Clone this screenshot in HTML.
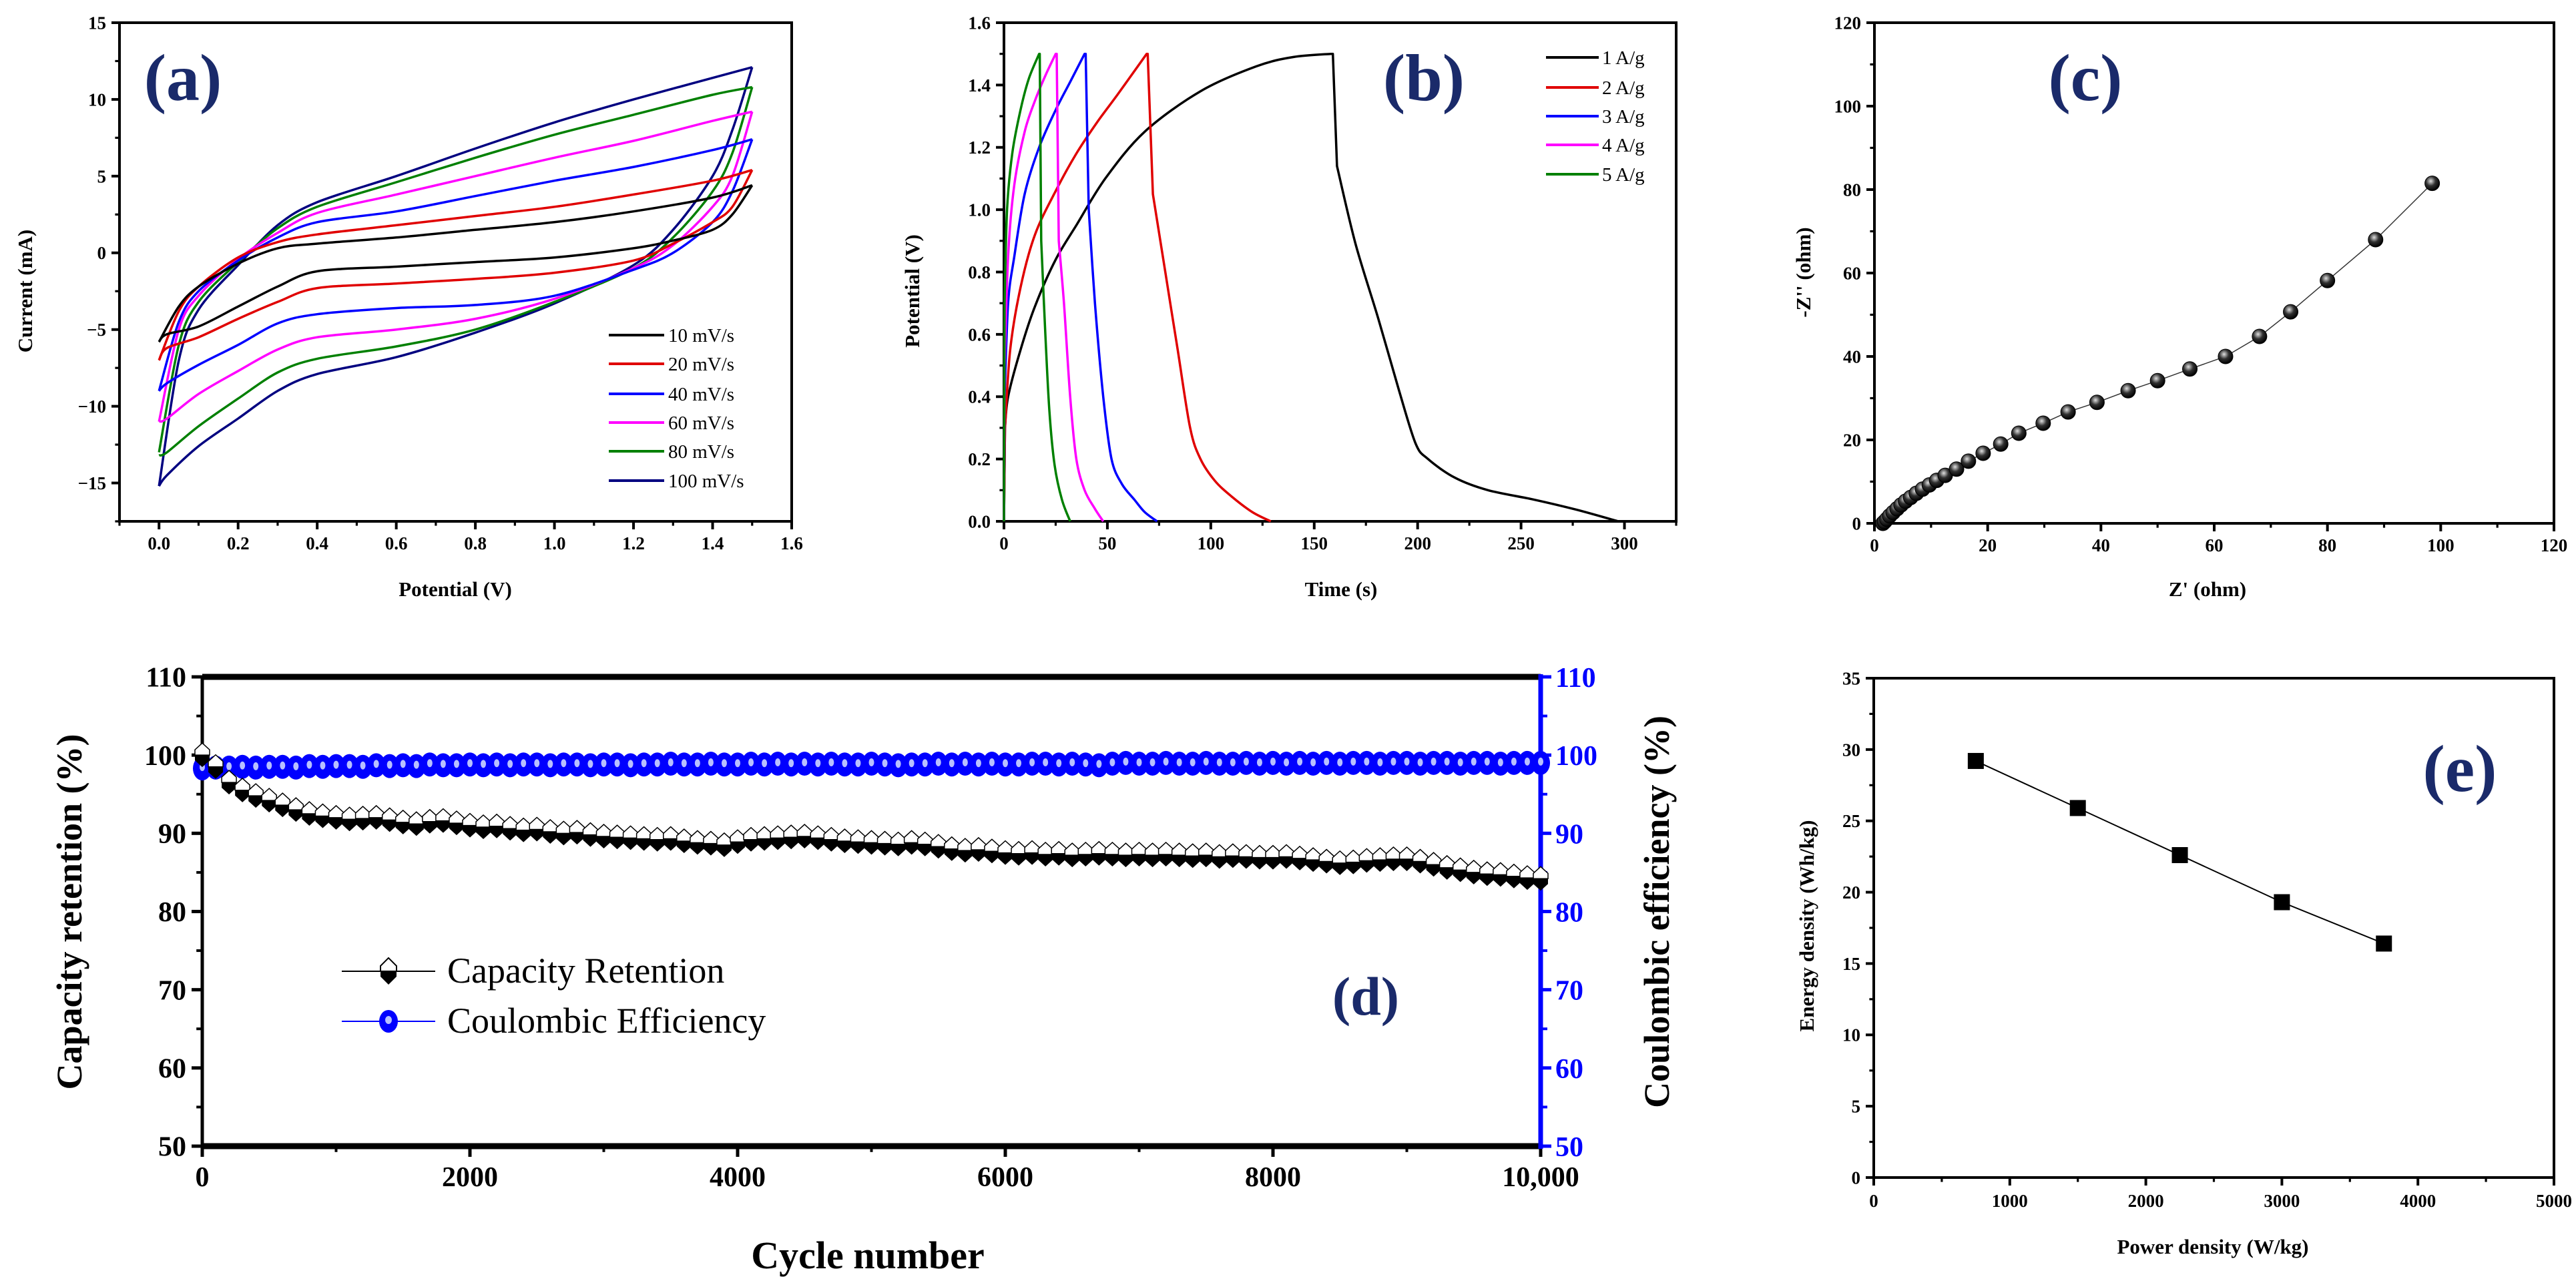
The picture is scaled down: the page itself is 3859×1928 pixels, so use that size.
<!DOCTYPE html>
<html><head><meta charset="utf-8">
<style>
html,body{margin:0;padding:0;background:#fff;}
svg{display:block;}
text{font-family:"Liberation Serif",serif;}
</style></head>
<body>
<svg id="fig" width="3859" height="1928" viewBox="0 0 3859 1928" xmlns="http://www.w3.org/2000/svg"></svg>
<script>
// ---------- Panel (a) CV data ----------
const cvLabels = ["10 mV/s","20 mV/s","40 mV/s","60 mV/s","80 mV/s","100 mV/s"];
const cvColors = ["#000000","#e00000","#0000ff","#ff00ff","#008000","#000080"];
const cvUpV = [0,0.05,0.1,0.2,0.3,0.4,0.6,0.8,1.0,1.2,1.4,1.5];
const cvLoV = [1.5,1.45,1.4,1.3,1.2,1.0,0.8,0.6,0.4,0.3,0.2,0.1,0.02,0];
const cvUp10 = [-5.8,-3.5,-2.2,-0.7,0.3,0.6,1.0,1.5,2.0,2.7,3.6,4.4];
const cvLo10 = [4.4,2.5,1.5,0.8,0.3,-0.3,-0.6,-0.9,-1.2,-2.2,-3.5,-4.8,-5.3,-5.8];
const cvUp20 = [-7,-3.8,-2.2,-0.3,0.7,1.2,1.8,2.4,3.0,3.8,4.7,5.4];
const cvLo20 = [5.4,3,2,0.6,-0.5,-1.3,-1.7,-2.0,-2.3,-3.2,-4.3,-5.5,-6.2,-7];
const cvUp40 = [-9,-4.5,-2.5,-0.5,1.0,2.0,2.7,3.7,4.7,5.6,6.7,7.4];
const cvLo40 = [7.4,4,2,0,-1.1,-2.8,-3.4,-3.6,-4.0,-4.6,-6.0,-7.3,-8.5,-9];
const cvUp60 = [-11,-5,-2.8,-0.4,1.3,2.6,3.8,5.0,6.2,7.3,8.6,9.2];
const cvLo60 = [9.2,5,3,0.5,-1,-3,-4.3,-5.0,-5.5,-6.3,-7.7,-9.2,-10.8,-11];
const cvUp80 = [-13,-6,-3.2,-0.6,1.6,3.0,4.6,6.2,7.7,9.0,10.3,10.8];
const cvLo80 = [10.8,6.5,4,1,-1,-3.2,-5.0,-6.1,-6.9,-7.8,-9.5,-11.3,-13,-13.2];
const cvUp100 = [-15.2,-7,-3.7,-0.8,1.8,3.3,5.0,6.8,8.5,10.0,11.4,12.1];
const cvLo100 = [12.1,8,5,1.5,-0.8,-3.3,-5.2,-6.8,-7.9,-9.0,-10.8,-12.6,-14.5,-15.2];

// ---------- Panel (b) GCD data ----------
const gcdLabels = ["1 A/g","2 A/g","3 A/g","4 A/g","5 A/g"];
const gcdColors = ["#000000","#e00000","#0000ff","#ff00ff","#008000"];
const g1t = [0,0.5,2,8,15,25,35,49,68,95,122,140,158,159,161,170,181,191,199,205,218,234,256,277,297];
const g1v = [0,0.3,0.4,0.55,0.69,0.84,0.95,1.1,1.25,1.38,1.46,1.49,1.5,1.5,1.14,0.89,0.65,0.42,0.25,0.2,0.14,0.1,0.07,0.037,0];
const g2t = [0,0.5,3,8,15,25,35,45,55,69,69.5,72,78,84,90,95,102,110,120,129];
const g2v = [0,0.3,0.55,0.75,0.92,1.06,1.18,1.28,1.37,1.5,1.5,1.05,0.8,0.55,0.3,0.2,0.13,0.08,0.03,0];
const g3t = [0,0.3,2,5,10,17,25,32,39,39.5,41,44,48,52,57,63,68,74];
const g3v = [0,0.4,0.7,0.85,1.05,1.2,1.32,1.41,1.5,1.5,1.0,0.7,0.4,0.2,0.12,0.07,0.03,0];
const g4t = [0,0.3,2,5,10,15,20,25,25.5,26.5,29,32,35,39,44,48];
const g4v = [0,0.5,0.85,1.08,1.25,1.35,1.43,1.5,1.5,0.9,0.7,0.4,0.2,0.1,0.04,0];
const g5t = [0,0.3,1.5,4,8,12,17,17.3,18,20,22,24.5,28,32];
const g5v = [0,0.7,1.0,1.18,1.32,1.42,1.5,1.5,0.9,0.6,0.35,0.18,0.07,0];

// ---------- Panel (c) EIS data ----------
const eisRe = [1.5,1.8,2.2,2.7,3.3,4,4.7,5.5,6.4,7.4,8.5,9.7,11,12.5,14.5,16.6,19.2,22.3,25.5,29.8,34.2,39.3,44.8,50,55.7,62,68,73.5,80,88.5,98.5];
const eisIm = [0,0.4,1.0,1.8,2.6,3.5,4.4,5.3,6.2,7.2,8.2,9.2,10.3,11.5,13,14.9,16.8,19,21.6,24,26.7,29,31.8,34.2,37,40,44.8,50.7,58.2,68,81.5];

// ---------- Panel (d) cycling data ----------
const cycNums = [];
for (let i = 0; i <= 100; i++) cycNums.push(i * 100);
const capRet = [100,98.5,96.5,95.5,94.8,94.2,93.6,93.0,92.5,92.2,92.0,
 91.8,91.9,92.0,91.7,91.4,91.2,91.5,91.6,91.3,91.0,
 90.8,90.9,90.6,90.4,90.5,90.2,90.0,90.1,89.8,89.6,
 89.5,89.4,89.3,89.2,89.3,89.0,88.8,88.7,88.5,88.9,
 89.2,89.3,89.4,89.5,89.6,89.4,89.2,89.0,88.9,88.8,
 88.7,88.6,88.8,88.6,88.3,88.0,87.8,87.9,87.7,87.5,
 87.4,87.5,87.3,87.4,87.2,87.3,87.4,87.3,87.2,87.3,
 87.2,87.3,87.2,87.1,87.2,87.0,87.1,87.0,86.9,86.9,
 87.0,86.8,86.6,86.4,86.2,86.3,86.5,86.6,86.7,86.7,
 86.4,86.0,85.6,85.3,85.0,84.8,84.7,84.5,84.3,84.2];
const coulEff = [98.3,98.4,98.4,98.5,98.4,98.5,98.5,98.4,98.6,98.5,98.6,
 98.6,98.5,98.7,98.6,98.7,98.6,98.8,98.7,98.7,98.8,
 98.7,98.8,98.7,98.8,98.8,98.7,98.8,98.8,98.7,98.8,
 98.8,98.7,98.8,98.8,98.9,98.8,98.8,98.9,98.8,98.8,
 98.9,98.8,98.9,98.8,98.9,98.8,98.9,98.8,98.8,98.9,
 98.8,98.7,98.8,98.8,98.9,98.8,98.9,98.8,98.9,98.8,
 98.8,98.9,98.9,98.8,98.9,98.8,98.7,98.9,99.0,98.9,
 98.9,99.0,98.9,98.9,99.0,98.9,98.9,99.0,98.9,99.0,
 98.9,99.0,98.9,99.0,98.9,99.0,99.0,98.9,99.0,99.0,
 98.9,99.0,99.0,98.9,99.0,99.0,98.9,99.0,99.0,99.0];

// ---------- Panel (e) Ragone data ----------
const powDen = [750,1500,2250,3000,3750];
const engDen = [29.2,25.9,22.6,19.3,16.4];

const NS = "http://www.w3.org/2000/svg";
const svg = document.getElementById("fig");
function mk(tag, attrs, name, parent) {
  const el = document.createElementNS(NS, tag);
  for (const k in attrs) el.setAttribute(k, attrs[k]);
  
  
  (parent || svg).appendChild(el);
  return el;
}
function txt(s, attrs, name, parent) {
  const t = mk("text", attrs, name, parent);
  t.textContent = s;
  return t;
}
function scale(d0, d1, p0, p1) { return v => p0 + (v - d0) / (d1 - d0) * (p1 - p0); }
function smooth(pts) {
  if (pts.length < 2) return "";
  let d = "M" + pts[0][0].toFixed(1) + "," + pts[0][1].toFixed(1);
  for (let i = 0; i < pts.length - 1; i++) {
    const p0 = pts[i - 1] || pts[i], p1 = pts[i], p2 = pts[i + 1], p3 = pts[i + 2] || p2;
    const t = 0.16;
    const c1 = [p1[0] + (p2[0] - p0[0]) * t, p1[1] + (p2[1] - p0[1]) * t];
    const c2 = [p2[0] - (p3[0] - p1[0]) * t, p2[1] - (p3[1] - p1[1]) * t];
    d += " C" + c1.map(v => v.toFixed(1)).join(",") + " " + c2.map(v => v.toFixed(1)).join(",") + " " + p2[0].toFixed(1) + "," + p2[1].toFixed(1);
  }
  return d;
}
function axes(o) {
  const g = mk("g", {}, o.name);
  const sx = scale(o.xmin, o.xmax, o.x0, o.x1), sy = scale(o.ymin, o.ymax, o.y1, o.y0);
  mk("rect", {x:o.x0, y:o.y0, width:o.x1 - o.x0, height:o.y1 - o.y0, fill:"none", stroke:"#000", "stroke-width":o.sw}, "plot-frame", g);
  o.xt.forEach((v, i) => {
    mk("line", {x1:sx(v), x2:sx(v), y1:o.y1, y2:o.y1 + o.tl, stroke:"#000", "stroke-width":o.sw}, "x-tick", g);
    txt(o.xl[i], {x:sx(v), y:o.y1 + o.xlo, "text-anchor":"middle", "font-size":o.fs, "font-weight":"bold", fill:"#000"}, "x-tick-label", g);
  });
  (o.xm || []).forEach(v => mk("line", {x1:sx(v), x2:sx(v), y1:o.y1, y2:o.y1 + o.tl * 0.55, stroke:"#000", "stroke-width":o.sw * 0.8}, "x-minor-tick", g));
  o.yt.forEach((v, i) => {
    mk("line", {x1:o.x0 - o.tl, x2:o.x0, y1:sy(v), y2:sy(v), stroke:"#000", "stroke-width":o.sw}, "y-tick", g);
    txt(o.yl[i], {x:o.x0 - o.tl - 8, y:sy(v) + o.fs * 0.35, "text-anchor":"end", "font-size":o.fs, "font-weight":"bold", fill:"#000"}, "y-tick-label", g);
  });
  (o.ym || []).forEach(v => mk("line", {x1:o.x0 - o.tl * 0.55, x2:o.x0, y1:sy(v), y2:sy(v), stroke:"#000", "stroke-width":o.sw * 0.8}, "y-minor-tick", g));
  return {sx, sy, g};
}
function range(a, b, s) { const r = []; for (let v = a; v <= b + 1e-9; v += s) r.push(+v.toFixed(6)); return r; }

// ===== Panel (a) =====
(function(){
  const xt = range(0, 1.6, 0.2), yt = range(-15, 15, 5);
  const A = axes({name:"panel-a-axes", x0:179, x1:1186, y0:34, y1:781, xmin:-0.1, xmax:1.6, ymin:-17.5, ymax:15,
    xt, xl:xt.map(v => v.toFixed(1)), xm:range(-0.1, 1.5, 0.2), yt, yl:yt.map(v => v < 0 ? "\u2212" + (-v) : "" + v),
    ym:range(-17.5, 12.5, 5), sw:4, tl:12, fs:27, xlo:42});
  const ups = [cvUp10, cvUp20, cvUp40, cvUp60, cvUp80, cvUp100];
  const los = [cvLo10, cvLo20, cvLo40, cvLo60, cvLo80, cvLo100];
  for (let k = 5; k >= 0; k--) {
    const pu = cvUpV.map((v, i) => [A.sx(v), A.sy(ups[k][i])]);
    const pl = cvLoV.map((v, i) => [A.sx(v), A.sy(los[k][i])]);
    mk("path", {d:smooth(pu), fill:"none", stroke:cvColors[k], "stroke-width":3.5}, "cv-anodic-" + cvLabels[k].split(" ")[0] + "mvs", A.g);
    mk("path", {d:smooth(pl), fill:"none", stroke:cvColors[k], "stroke-width":3.5}, "cv-cathodic-" + cvLabels[k].split(" ")[0] + "mvs", A.g);
  }
  const ly = [502, 545, 590, 633, 676, 720];
  cvLabels.forEach((l, i) => {
    mk("line", {x1:912, x2:995, y1:ly[i], y2:ly[i], stroke:cvColors[i], "stroke-width":4}, "legend-line", A.g);
    txt(l, {x:1001, y:ly[i] + 10, "font-size":29, fill:"#000"}, "legend-entry", A.g);
  });
  txt("(a)", {x:274, y:150, "text-anchor":"middle", "font-size":100, "font-weight":"bold", fill:"#1a2a6a"}, "panel-a-label", A.g);
  txt("Current (mA)", {x:0, y:0, transform:"translate(48,436) rotate(-90)", "text-anchor":"middle", "font-size":31, "font-weight":"bold"}, "y-axis-title", A.g);
  txt("Potential (V)", {x:682, y:893, "text-anchor":"middle", "font-size":31, "font-weight":"bold"}, "x-axis-title", A.g);
})();

// ===== Panel (b) =====
(function(){
  const xt = range(0, 300, 50), yt = range(0, 1.6, 0.2);
  const B = axes({name:"panel-b-axes", x0:1504, x1:2511, y0:34, y1:781, xmin:0, xmax:325, ymin:0, ymax:1.6,
    xt, xl:xt.map(v => "" + v), xm:range(25, 325, 50), yt, yl:yt.map(v => v.toFixed(1)), ym:range(0.1, 1.5, 0.2),
    sw:4, tl:12, fs:27, xlo:42});
  const ts = [g1t, g2t, g3t, g4t, g5t], vs = [g1v, g2v, g3v, g4v, g5v];
  for (let k = 0; k < 5; k++) {
    const pts = ts[k].map((t, i) => [B.sx(t), B.sy(vs[k][i])]);
    let pk = 0;
    vs[k].forEach((v, i) => { if (v >= vs[k][pk]) pk = i; });
    let first = 0;
    vs[k].forEach((v, i) => { if (first === 0 && v >= 1.5) first = i; });
    const charge = pts.slice(1, first + 1);
    const dis = pts.slice(pk + 1);
    const d = "M" + pts[0][0].toFixed(1) + "," + pts[0][1].toFixed(1) + " L" + charge[0][0].toFixed(1) + "," + charge[0][1].toFixed(1) + " " +
      smooth(charge).replace(/^M[^ ]+/, "") + " L" + pts[pk][0].toFixed(1) + "," + pts[pk][1].toFixed(1) +
      " L" + dis[0][0].toFixed(1) + "," + dis[0][1].toFixed(1) + " " + smooth(dis).replace(/^M[^ ]+/, "");
    mk("path", {d, fill:"none", stroke:gcdColors[k], "stroke-width":3.5, "stroke-linejoin":"round"}, "gcd-curve-" + (k + 1) + "ag", B.g);
  }
  const ly = [86, 131, 174, 217, 261];
  gcdLabels.forEach((l, i) => {
    mk("line", {x1:2316, x2:2395, y1:ly[i], y2:ly[i], stroke:gcdColors[i], "stroke-width":4}, "legend-line", B.g);
    txt(l, {x:2400, y:ly[i] + 10, "font-size":29}, "legend-entry", B.g);
  });
  txt("(b)", {x:2133, y:150, "text-anchor":"middle", "font-size":100, "font-weight":"bold", fill:"#1a2a6a"}, "panel-b-label", B.g);
  txt("Potential (V)", {x:0, y:0, transform:"translate(1377,436) rotate(-90)", "text-anchor":"middle", "font-size":31, "font-weight":"bold"}, "y-axis-title", B.g);
  txt("Time (s)", {x:2009, y:893, "text-anchor":"middle", "font-size":31, "font-weight":"bold"}, "x-axis-title", B.g);
})();

// ===== Panel (c) =====
(function(){
  const xt = range(0, 120, 20), yt = range(0, 120, 20);
  const C = axes({name:"panel-c-axes", x0:2808, x1:3826, y0:34, y1:784, xmin:0, xmax:120, ymin:0, ymax:120,
    xt, xl:xt.map(v => "" + v), xm:range(10, 110, 20), yt, yl:yt.map(v => "" + v), ym:range(10, 110, 20),
    sw:4, tl:12, fs:27, xlo:42});
  const defs = mk("defs", {}, "defs");
  const rg = mk("radialGradient", {id:"ball", cx:"0.4", cy:"0.35", r:"0.65"}, "ball-gradient", defs);
  mk("stop", {offset:"0", "stop-color":"#e0e0e0"}, "grad-stop", rg);
  mk("stop", {offset:"0.5", "stop-color":"#303030"}, "grad-stop", rg);
  mk("stop", {offset:"1", "stop-color":"#000"}, "grad-stop", rg);
  const pts = eisRe.map((x, i) => [C.sx(x), C.sy(eisIm[i])]);
  mk("path", {d:"M" + pts.map(p => p[0].toFixed(1) + "," + p[1].toFixed(1)).join(" L"), fill:"none", stroke:"#333", "stroke-width":1.5}, "eis-line", C.g);
  pts.forEach(p => mk("circle", {cx:p[0], cy:p[1], r:11, fill:"url(#ball)", stroke:"#000", "stroke-width":1}, "eis-point", C.g));
  txt("(c)", {x:3124, y:150, "text-anchor":"middle", "font-size":100, "font-weight":"bold", fill:"#1a2a6a"}, "panel-c-label", C.g);
  txt("-Z'' (ohm)", {x:0, y:0, transform:"translate(2712,408) rotate(-90)", "text-anchor":"middle", "font-size":31, "font-weight":"bold"}, "y-axis-title", C.g);
  txt("Z' (ohm)", {x:3307, y:893, "text-anchor":"middle", "font-size":31, "font-weight":"bold"}, "x-axis-title", C.g);
})();

// ===== Panel (d) =====
(function(){
  const xt = range(0, 10000, 2000), yt = range(50, 110, 10);
  const D = axes({name:"panel-d-axes", x0:303, x1:2308, y0:1014, y1:1717, xmin:0, xmax:10000, ymin:50, ymax:110,
    xt, xl:["0","2000","4000","6000","8000","10,000"], xm:range(1000, 9000, 2000), yt, yl:yt.map(v => "" + v), ym:range(55, 105, 10),
    sw:5, tl:16, fs:42, xlo:60});
  mk("line", {x1:303, x2:2308, y1:1014, y2:1014, stroke:"#000", "stroke-width":9}, "top-spine", D.g);
  mk("line", {x1:303, x2:2308, y1:1717, y2:1717, stroke:"#000", "stroke-width":9}, "bottom-spine", D.g);
  mk("line", {x1:2308, x2:2308, y1:1010, y2:1721, stroke:"#0000ff", "stroke-width":7}, "right-spine", D.g);
  yt.forEach(v => {
    mk("line", {x1:2308, x2:2324, y1:D.sy(v), y2:D.sy(v), stroke:"#0000ff", "stroke-width":5}, "right-y-tick", D.g);
    txt("" + v, {x:2330, y:D.sy(v) + 15, "font-size":42, "font-weight":"bold", fill:"#0000ff"}, "right-y-tick-label", D.g);
  });
  range(55, 105, 10).forEach(v => mk("line", {x1:2308, x2:2318, y1:D.sy(v), y2:D.sy(v), stroke:"#0000ff", "stroke-width":4}, "right-y-minor-tick", D.g));
  // coulombic efficiency
  cycNums.forEach((c, i) => {
    mk("ellipse", {cx:D.sx(c), cy:D.sy(coulEff[i]), rx:14, ry:18, fill:"#0000ff"}, "ce-marker", D.g);
  });
  cycNums.forEach((c, i) => {
    mk("ellipse", {cx:D.sx(c), cy:D.sy(coulEff[i]) - 2, rx:4, ry:6, fill:"#b8c0ff"}, "ce-marker-highlight", D.g);
  });
  // capacity retention
  cycNums.forEach((c, i) => {
    const x = D.sx(c), y = D.sy(capRet[i]);
    mk("path", {d:`M${x-11},${y} L${x+11},${y} L${x+11},${y+8} L${x},${y+18} L${x-11},${y+8} Z`, fill:"#000"}, "cr-marker-bottom", D.g);
    mk("path", {d:`M${x-11},${y} L${x-11},${y-8} L${x},${y-18} L${x+11},${y-8} L${x+11},${y} Z`, fill:"#fff", stroke:"#000", "stroke-width":1.5}, "cr-marker-top", D.g);
  });
  // legend
  mk("line", {x1:512, x2:652, y1:1455, y2:1455, stroke:"#000", "stroke-width":2}, "legend-line", D.g);
  mk("path", {d:"M570,1455 L594,1455 L594,1463 L582,1475 L570,1463 Z", fill:"#000"}, "legend-marker", D.g);
  mk("path", {d:"M570,1455 L570,1447 L582,1435 L594,1447 L594,1455 Z", fill:"#fff", stroke:"#000", "stroke-width":2}, "legend-marker", D.g);
  txt("Capacity Retention", {x:670, y:1472, "font-size":54}, "legend-entry", D.g);
  mk("line", {x1:512, x2:652, y1:1530, y2:1530, stroke:"#0000ff", "stroke-width":2}, "legend-line", D.g);
  mk("ellipse", {cx:582, cy:1530, rx:14, ry:17, fill:"#0000ff"}, "legend-marker", D.g);
  mk("ellipse", {cx:582, cy:1528, rx:5, ry:6, fill:"#b8c0ff"}, "legend-marker", D.g);
  txt("Coulombic Efficiency", {x:670, y:1547, "font-size":54}, "legend-entry", D.g);
  txt("(d)", {x:2046, y:1520, "text-anchor":"middle", "font-size":82, "font-weight":"bold", fill:"#1a2a6a"}, "panel-d-label", D.g);
  txt("Capacity retention (%)", {x:0, y:0, transform:"translate(122,1366) rotate(-90)", "text-anchor":"middle", "font-size":54, "font-weight":"bold"}, "y-axis-title", D.g);
  txt("Coulombic efficiency (%)", {x:0, y:0, transform:"translate(2500,1366) rotate(-90)", "text-anchor":"middle", "font-size":54, "font-weight":"bold"}, "right-y-axis-title", D.g);
  txt("Cycle number", {x:1300, y:1900, "text-anchor":"middle", "font-size":58, "font-weight":"bold"}, "x-axis-title", D.g);
})();

// ===== Panel (e) =====
(function(){
  const xt = range(0, 5000, 1000), yt = range(0, 35, 5);
  const E = axes({name:"panel-e-axes", x0:2807, x1:3826, y0:1016, y1:1764, xmin:0, xmax:5000, ymin:0, ymax:35,
    xt, xl:xt.map(v => "" + v), xm:range(500, 4500, 1000), yt, yl:yt.map(v => "" + v), ym:range(2.5, 32.5, 5),
    sw:4, tl:12, fs:27, xlo:44});
  const pts = powDen.map((p, i) => [E.sx(p), E.sy(engDen[i])]);
  mk("path", {d:"M" + pts.map(p => p[0].toFixed(1) + "," + p[1].toFixed(1)).join(" L"), fill:"none", stroke:"#000", "stroke-width":2}, "ragone-line", E.g);
  pts.forEach(p => mk("rect", {x:p[0] - 12, y:p[1] - 12, width:24, height:24, fill:"#000"}, "ragone-point", E.g));
  txt("(e)", {x:3685, y:1185, "text-anchor":"middle", "font-size":100, "font-weight":"bold", fill:"#1a2a6a"}, "panel-e-label", E.g);
  txt("Energy density (Wh/kg)", {x:0, y:0, transform:"translate(2717,1387) rotate(-90)", "text-anchor":"middle", "font-size":31, "font-weight":"bold"}, "y-axis-title", E.g);
  txt("Power density (W/kg)", {x:3315, y:1878, "text-anchor":"middle", "font-size":31, "font-weight":"bold"}, "x-axis-title", E.g);
})();
</script>
</body></html>
